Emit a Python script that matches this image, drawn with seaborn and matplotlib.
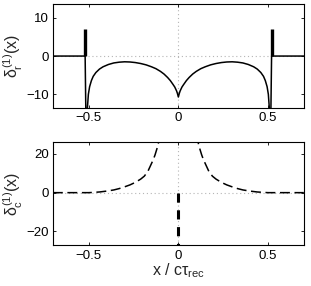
import numpy as np
import pandas as pd
import matplotlib
matplotlib.use("Agg")
import matplotlib.pyplot as plt
import seaborn as sns

# ---- data ----
x_r = [-0.700, -0.520, -0.512, -0.508, -0.502, -0.495, -0.485, -0.475, -0.460, -0.440,
       -0.420, -0.390, -0.360, -0.330, -0.300, -0.270, -0.240, -0.210, -0.180, -0.150,
       -0.125, -0.100, -0.080, -0.060, -0.045, -0.030, -0.020, -0.010, -0.005, 0.000,
       0.005, 0.010, 0.020, 0.030, 0.045, 0.060, 0.080, 0.100, 0.125, 0.150,
       0.180, 0.210, 0.240, 0.270, 0.300, 0.330, 0.360, 0.390, 0.420, 0.440,
       0.460, 0.475, 0.485, 0.495, 0.502, 0.508, 0.512, 0.520, 0.700]
r_val = [0.0, 0.0, -30.0, -14.0, -10.0, -8.0, -6.4, -5.3, -4.3, -3.4,
         -2.8, -2.2, -1.8, -1.6, -1.5, -1.55, -1.7, -1.95, -2.3, -2.8,
         -3.3, -4.0, -4.7, -5.6, -6.4, -7.4, -8.1, -9.1, -9.8, -10.7,
         -9.8, -9.1, -8.1, -7.4, -6.4, -5.6, -4.7, -4.0, -3.3, -2.8,
         -2.3, -1.95, -1.7, -1.55, -1.5, -1.6, -1.8, -2.2, -2.8, -3.4,
         -4.3, -5.3, -6.4, -8.0, -10.0, -14.0, -30.0, 0.0, 0.0]
spike_x = [-0.52, 0.52]
spike_h = [7.0, 7.0]

x_c_left = [-0.70, -0.50, -0.48, -0.44, -0.40, -0.36, -0.33, -0.30, -0.27, -0.24,
            -0.21, -0.19, -0.17, -0.155, -0.14, -0.13, -0.12, -0.11, -0.10]
c_left = [0.0, 0.0, 0.1, 0.35, 0.8, 1.4, 2.1, 3.0, 4.0, 5.3,
          7.0, 8.5, 11.0, 14.0, 17.0, 19.5, 22.5, 26.0, 30.0]
x_c_right = [0.10, 0.11, 0.12, 0.13, 0.14, 0.155, 0.17, 0.19, 0.21, 0.24,
             0.27, 0.30, 0.33, 0.36, 0.40, 0.44, 0.48, 0.50, 0.70]
c_right = [30.0, 26.0, 22.5, 19.5, 17.0, 14.0, 11.0, 8.5, 7.0, 5.3,
           4.0, 3.0, 2.1, 1.4, 0.8, 0.35, 0.1, 0.0, 0.0]
delta_c_x = [0.0]
delta_c_h = [-40.0]

xticks = [-0.5, 0, 0.5]
xticklabels = ["\u22120.5", "0", "0.5"]
yticks_r = [-10, 0, 10]
yticks_c = [-20, 0, 20]

# ---- style ----
sns.set_style("ticks")
plt.rcParams["font.family"] = ["Liberation Sans", "DejaVu Sans"]
plt.rcParams["mathtext.fontset"] = "custom"
plt.rcParams["mathtext.rm"] = "Liberation Sans"
plt.rcParams["mathtext.it"] = "Liberation Sans"
plt.rcParams["mathtext.bf"] = "Liberation Sans:bold"
plt.rcParams["xtick.direction"] = "in"
plt.rcParams["ytick.direction"] = "in"

fig = plt.figure(figsize=(3.11, 2.86), dpi=100)
ax1 = fig.add_axes([0.170, 0.622, 0.807, 0.364])
ax2 = fig.add_axes([0.170, 0.142, 0.807, 0.362])

grid_kw = dict(color="#b5b5b5", lw=0.8, linestyle=(0, (1, 2.5)), zorder=0)

for ax in (ax1, ax2):
    ax.axhline(0, **grid_kw)
    ax.axvline(0, **grid_kw)

# top panel
df_r = pd.DataFrame({"x": x_r, "r": r_val})
sns.lineplot(data=df_r, x="x", y="r", ax=ax1, color="black", lw=1.1,
             sort=False, estimator=None)
ax1.vlines(spike_x, 0, spike_h, color="black", lw=2.4)

# bottom panel
dash = (0, (6.5, 3))
df_cl = pd.DataFrame({"x": x_c_left, "c": c_left})
df_cr = pd.DataFrame({"x": x_c_right, "c": c_right})
sns.lineplot(data=df_cl, x="x", y="c", ax=ax2, color="black", lw=1.1,
             sort=False, estimator=None, linestyle=dash)
sns.lineplot(data=df_cr, x="x", y="c", ax=ax2, color="black", lw=1.1,
             sort=False, estimator=None, linestyle=dash)
ax2.vlines(delta_c_x, 0, delta_c_h, color="black", lw=2.2,
           linestyle=(0, (3, 2.5)))

for ax in (ax1, ax2):
    ax.set_xlim(-0.7, 0.7)
    ax.set_xticks(xticks)
    ax.tick_params(axis="both", which="both", direction="in", length=2.5,
                   width=0.6, top=True, right=True, labelsize=9.5, pad=3,
                   colors="black")
    for s in ax.spines.values():
        s.set_visible(True)
        s.set_linewidth(0.8)
        s.set_color("black")

ax1.set_xticklabels(xticklabels)
ax2.set_xticklabels(xticklabels)
ax1.set_ylim(-13.6, 13.6)
ax1.set_yticks(yticks_r)
ax1.set_yticklabels(["\u221210", "0", "10"])
ax2.set_ylim(-27.2, 26.2)
ax2.set_yticks(yticks_c)
ax2.set_yticklabels(["\u221220", "0", "20"])

ax1.set_xlabel("")
ax1.set_ylabel(r"$\delta_\mathrm{r}^{(1)}(x)$", fontsize=11.5, labelpad=1)
ax2.set_ylabel(r"$\delta_\mathrm{c}^{(1)}(x)$", fontsize=11.5, labelpad=1)
ax2.set_xlabel(r"$x\ /\ c\tau_\mathrm{rec}$", fontsize=11.5, labelpad=0)

fig.savefig("out.png", dpi=100)
